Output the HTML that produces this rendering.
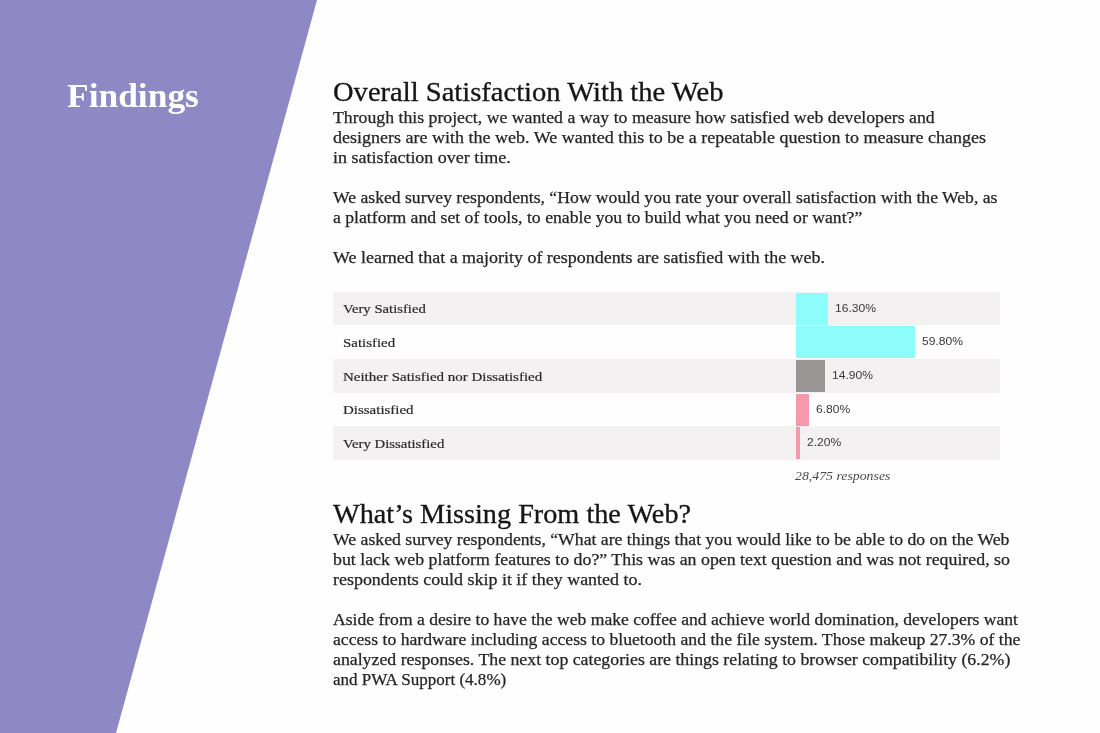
<!DOCTYPE html>
<html><head><meta charset="utf-8"><style>
html,body{margin:0;padding:0;}
body{width:1100px;height:733px;position:relative;overflow:hidden;background:#fefefe;font-family:"Liberation Serif",serif;}
.side{position:absolute;left:0;top:0;width:1100px;height:733px;}
.ln{position:absolute;left:333px;white-space:nowrap;line-height:normal;color:#262424;filter:blur(0.25px);-webkit-text-stroke:0.25px #262424;transform-origin:0 0;}
.hd{position:absolute;left:333px;white-space:nowrap;line-height:normal;color:#161414;filter:blur(0.25px);-webkit-text-stroke:0.3px #161414;transform-origin:0 0;}
.row{position:absolute;left:333px;width:667px;}
.row.alt{background:#f4f1f2;}
.lab{position:absolute;left:10px;white-space:nowrap;font-size:13px;color:#2a2828;line-height:normal;filter:blur(0.2px);-webkit-text-stroke:0.2px #2a2828;transform-origin:0 0;}
.bar{position:absolute;left:462.5px;}
.pct{position:absolute;transform-origin:0 0;white-space:nowrap;font-family:"Liberation Sans",sans-serif;font-size:11.5px;color:#3a3838;line-height:normal;filter:blur(0.2px);}
.find{position:absolute;left:67px;white-space:nowrap;color:#fff;font-weight:bold;font-size:33px;line-height:normal;filter:blur(0.25px);transform-origin:0 0;}
.resp{position:absolute;left:795px;white-space:nowrap;font-style:italic;font-size:12.5px;color:#4c4a4a;line-height:normal;filter:blur(0.2px);transform-origin:0 0;}
</style></head><body>
<svg class="side" width="1100" height="733" viewBox="0 0 1100 733"><polygon points="0,0 317,0 116,733 0,733" fill="#8e89c5"/></svg>
<div class="find" style="top:77.60px;transform:scaleX(1.0730)"><span class="m" id="find">Findings</span></div>
<div class="hd" style="top:76.89px;font-size:26.5px;transform:scaleX(1.0776)"><span class="m" id="h1">Overall Satisfaction With the Web</span></div>
<div class="hd" style="top:498.89px;font-size:26.5px;transform:scaleX(1.0657)"><span class="m" id="h2">What’s Missing From the Web?</span></div>
<div class="ln" style="top:108.10px;font-size:16.5px;transform:scaleX(1.0746)"><span class="m" id="p1">Through this project, we wanted a way to measure how satisfied web developers and</span></div>
<div class="ln" style="top:128.10px;font-size:16.5px;transform:scaleX(1.0910)"><span class="m" id="p2">designers are with the web. We wanted this to be a repeatable question to measure changes</span></div>
<div class="ln" style="top:148.10px;font-size:16.5px;transform:scaleX(1.0895)"><span class="m" id="p3">in satisfaction over time.</span></div>
<div class="ln" style="top:188.10px;font-size:16.5px;transform:scaleX(1.0681)"><span class="m" id="p4">We asked survey respondents, “How would you rate your overall satisfaction with the Web, as</span></div>
<div class="ln" style="top:208.10px;font-size:16.5px;transform:scaleX(1.0716)"><span class="m" id="p5">a platform and set of tools, to enable you to build what you need or want?”</span></div>
<div class="ln" style="top:248.10px;font-size:16.5px;transform:scaleX(1.0878)"><span class="m" id="p6">We learned that a majority of respondents are satisfied with the web.</span></div>
<div class="ln" style="top:530.10px;font-size:16.5px;transform:scaleX(1.0724)"><span class="m" id="p7">We asked survey respondents, “What are things that you would like to be able to do on the Web</span></div>
<div class="ln" style="top:550.10px;font-size:16.5px;transform:scaleX(1.0804)"><span class="m" id="p8">but lack web platform features to do?” This was an open text question and was not required, so</span></div>
<div class="ln" style="top:570.10px;font-size:16.5px;transform:scaleX(1.0873)"><span class="m" id="p9">respondents could skip it if they wanted to.</span></div>
<div class="ln" style="top:610.10px;font-size:16.5px;transform:scaleX(1.0653)"><span class="m" id="p10">Aside from a desire to have the web make coffee and achieve world domination, developers want</span></div>
<div class="ln" style="top:630.10px;font-size:16.5px;transform:scaleX(1.0698)"><span class="m" id="p11">access to hardware including access to bluetooth and the file system. Those makeup 27.3% of the</span></div>
<div class="ln" style="top:650.10px;font-size:16.5px;transform:scaleX(1.0780)"><span class="m" id="p12">analyzed responses. The next top categories are things relating to browser compatibility (6.2%)</span></div>
<div class="ln" style="top:670.10px;font-size:16.5px;transform:scaleX(1.0329)"><span class="m" id="p13">and PWA Support (4.8%)</span></div>
<div class="row alt" style="top:291.50px;height:33.70px"><div class="lab" style="top:9.62px;transform:scaleX(1.1290)"><span class="m" id="lab0">Very Satisfied</span></div><div class="bar" style="top:1px;height:32px;width:32.6px;background:#8cfdfb"></div><div class="pct" style="left:502.1px;top:10.09px;transform:scaleX(1.05)">16.30%</div></div>
<div class="row" style="top:325.20px;height:33.70px"><div class="lab" style="top:9.62px;transform:scaleX(1.1450)"><span class="m" id="lab1">Satisfied</span></div><div class="bar" style="top:1px;height:32px;width:119.6px;background:#8cfdfb"></div><div class="pct" style="left:589.1px;top:10.09px;transform:scaleX(1.05)">59.80%</div></div>
<div class="row alt" style="top:358.90px;height:33.70px"><div class="lab" style="top:9.62px;transform:scaleX(1.1520)"><span class="m" id="lab2">Neither Satisfied nor Dissatisfied</span></div><div class="bar" style="top:1px;height:32px;width:29.8px;background:#999696"></div><div class="pct" style="left:499.3px;top:10.09px;transform:scaleX(1.05)">14.90%</div></div>
<div class="row" style="top:392.60px;height:33.70px"><div class="lab" style="top:9.62px;transform:scaleX(1.1500)"><span class="m" id="lab3">Dissatisfied</span></div><div class="bar" style="top:1px;height:32px;width:13.6px;background:#f599ab"></div><div class="pct" style="left:483.1px;top:10.09px;transform:scaleX(1.05)">6.80%</div></div>
<div class="row alt" style="top:426.30px;height:33.70px"><div class="lab" style="top:9.62px;transform:scaleX(1.1360)"><span class="m" id="lab4">Very Dissatisfied</span></div><div class="bar" style="top:1px;height:32px;width:4.4px;background:#f599ab"></div><div class="pct" style="left:473.9px;top:10.09px;transform:scaleX(1.05)">2.20%</div></div>
<div class="resp" style="top:469.36px;transform:scaleX(1.1050)"><span class="m" id="resp">28,475 responses</span></div>
</body></html>
